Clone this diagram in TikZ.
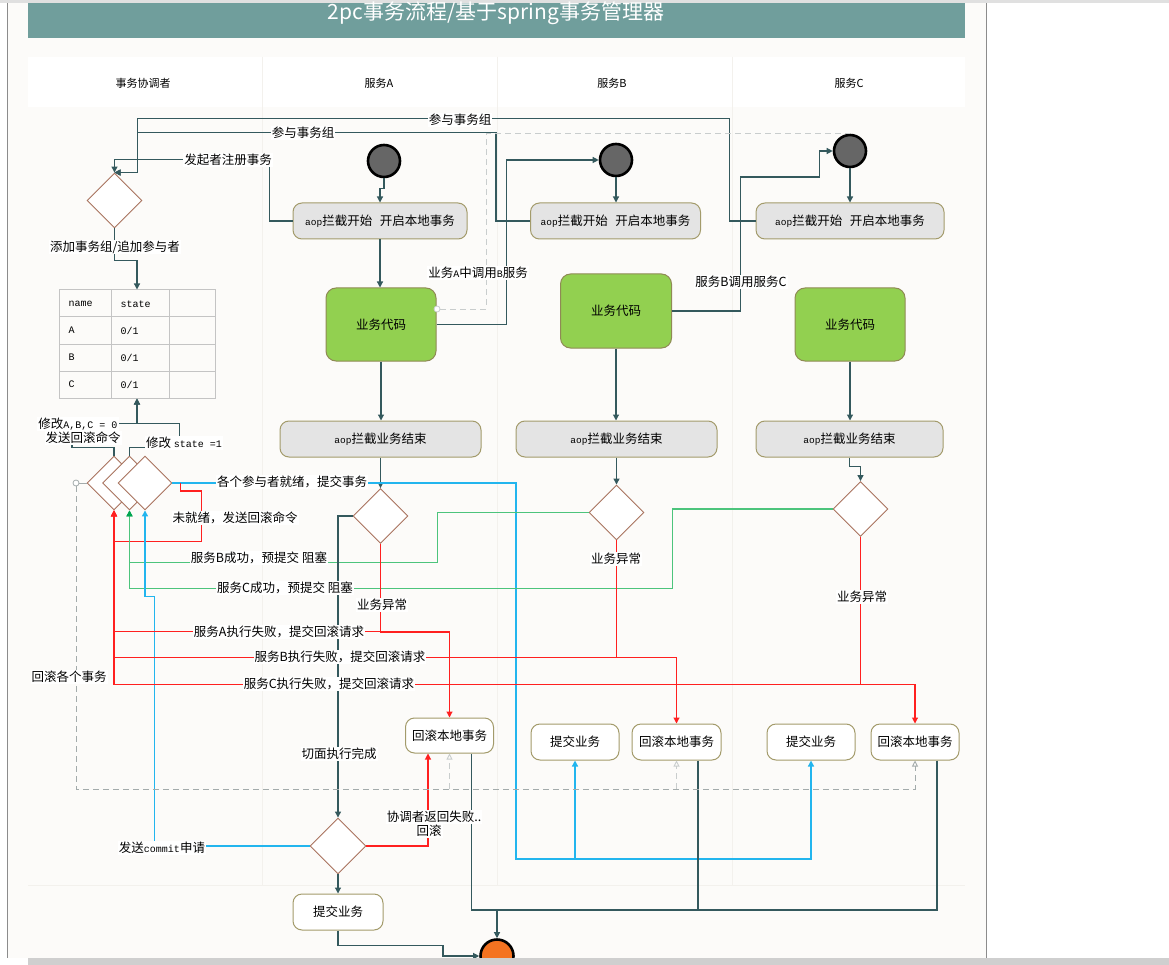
\documentclass[tikz,border=0pt]{standalone}
\usepackage{fontspec}
\setmainfont{Noto Sans CJK SC}
\newfontfamily\mono{Liberation Mono}
\usetikzlibrary{arrows.meta,shapes.geometric,calc}

\definecolor{pagebg}{HTML}{FCFBF9}
\definecolor{titlebg}{HTML}{709E9C}
\definecolor{laneline}{HTML}{F3F1ED}
\definecolor{flowc}{HTML}{34595D}
\definecolor{boxgrey}{HTML}{E4E4E4}
\definecolor{boxedge}{HTML}{A39B6B}
\definecolor{codegreen}{HTML}{92D050}
\definecolor{codeedge}{HTML}{8F8A55}
\definecolor{decedge}{HTML}{A8735E}
\definecolor{startfill}{HTML}{666666}
\definecolor{endfill}{HTML}{F47321}
\definecolor{failred}{HTML}{FF2020}
\definecolor{okblue}{HTML}{22B5EE}
\definecolor{okgreen}{HTML}{4CC47C}
\definecolor{arrgreen}{HTML}{00A650}
\definecolor{dashgrey}{HTML}{A3ABAB}
\definecolor{dashlight}{HTML}{C9CDCD}
\definecolor{gridgrey}{HTML}{C4C4C4}

\newcommand{\aop}{{\mono\fontsize{9.5}{10}\selectfont aop}}
\newcommand{\monotxt}[1]{{\mono\fontsize{10}{12}\selectfont #1}}

\tikzset{
  txt/.style={font=\fontsize{12.5}{15}\selectfont},
  lbl/.style={txt, fill=white, inner sep=1pt},
  hdr/.style={font=\fontsize{11}{13}\selectfont},
  gbox/.style={txt, draw=boxedge, fill=boxgrey, rounded corners=9pt, line width=1pt, minimum height=36pt, inner sep=0pt},
  wbox/.style={txt, draw=boxedge, fill=white, rounded corners=9pt, line width=1pt, minimum width=88pt, minimum height=36pt, inner sep=0pt},
  codebox/.style={txt, draw=codeedge, fill=codegreen, rounded corners=10pt, line width=1pt, minimum width=110pt, minimum height=73pt, inner sep=0pt},
  dec/.style={diamond, draw=decedge, fill=white, line width=0.9pt, minimum width=55pt, minimum height=55pt, inner sep=0pt},
  startc/.style={circle, draw=black, line width=2.6pt, fill=startfill, minimum size=32pt, inner sep=0pt},
  tip/.style={-{Triangle[length=6pt,width=6pt]}},
  flow/.style={draw=flowc, line width=1.2pt},
  flowarr/.style={flow, tip},
  redl/.style={draw=failred, line width=1.1pt},
  redarr/.style={redl, tip},
  bluel/.style={draw=okblue, line width=1.4pt},
  bluearr/.style={bluel, tip},
  greenl/.style={draw=okgreen, line width=1.4pt, -{Triangle[length=6pt,width=6pt,color=arrgreen]}},
  dashl/.style={draw=dashlight, line width=0.9pt, dash pattern=on 6pt off 4pt},
  dashd/.style={draw=dashgrey, line width=0.9pt, dash pattern=on 6pt off 4pt},
  dashopen/.style={dashd, -{Triangle[open,length=6pt,width=6pt]}},
  tcell/.style={anchor=west, font=\mono\fontsize{10}{12}\selectfont}
}

\begin{document}
\begin{tikzpicture}[x=1pt,y=-1pt]
\useasboundingbox (0,0) rectangle (1169,965);

% page and frame
\fill[white] (0,0) rectangle (1169,965);
\fill[pagebg] (7,0) rectangle (986,958);
\draw[black!45, line width=1pt] (7,0) -- (7,958);
\draw[black!45, line width=1pt] (986,0) -- (986,958);
\fill[black!12] (0,0) rectangle (1169,3);

% title band
\fill[titlebg] (28,3) rectangle (965,38);
\node[text=white, font=\fontsize{21}{24}\selectfont] (title) at (496,13) {2pc事务流程/基于spring事务管理器};

% swimlane header and separators
\fill[white] (28,57) rectangle (965,107);
\foreach \x in {262,497,732} \draw[laneline] (\x,57) -- (\x,885);
\draw[laneline] (28,885) -- (965,885);
\node[hdr] (h0) at (143,83) {事务协调者};
\node[hdr] (h1) at (379,83) {服务A};
\node[hdr] (h2) at (612,83) {服务B};
\node[hdr] (h3) at (849,83) {服务C};

% coordinator lane
\node[dec] (dReg) at (114.5,200.5) {};
\node[draw=gridgrey, line width=1pt, minimum width=156pt, minimum height=108pt, inner sep=0pt] (tbl) at (137,344) {};
\draw[gridgrey, line width=1pt] (111,290) -- (111,398) (169,290) -- (169,398)
  (59,317) -- (215,317) (59,344) -- (215,344) (59,371) -- (215,371);
\node[tcell] (t1) at (65,304) {name};
\node[tcell] (t2) at (117,304) {state};
\node[tcell] (t3) at (65,330.5) {A};
\node[tcell] (t4) at (117,330.5) {0/1};
\node[tcell] (t5) at (65,357.5) {B};
\node[tcell] (t6) at (117,357.5) {0/1};
\node[tcell] (t7) at (65,384.5) {C};
\node[tcell] (t8) at (117,384.5) {0/1};
\node[dec, minimum width=54pt, minimum height=54pt] (dSt1) at (114,483) {};
\node[dec, minimum width=54pt, minimum height=54pt] (dSt2) at (129.5,483) {};
\node[dec, minimum width=54pt, minimum height=54pt] (dSt3) at (145,483) {};
\node[circle, draw=dashgrey, fill=white, minimum size=6pt, inner sep=0pt, line width=0.8pt] (hub) at (76,483) {};

% service A lane
\node[startc] (sA) at (384,161) {};
\node[gbox, minimum width=174pt] (a1) at (380,221) {\aop{}拦截开始\hspace{0.6em}开启本地事务};
\node[codebox] (codeA) at (381,324.5) {业务代码};
\node[gbox, minimum width=201pt] (a3) at (380.5,439) {\aop{}拦截业务结束};
\node[dec] (dA) at (380.5,516) {};
\node[wbox, minimum width=88pt, minimum height=35pt] (rbA) at (449.5,735.5) {回滚本地事务};
\node[dec, minimum width=56pt, minimum height=56pt] (dFin) at (338,846) {};
\node[wbox, minimum width=90pt] (cmA) at (338,912) {提交业务};
\node[circle, draw=black, line width=2.6pt, fill=endfill, minimum size=33pt, inner sep=0pt] (endc) at (497,956) {};
\node[circle, draw=dashlight, fill=white, minimum size=6pt, inner sep=0pt, line width=0.8pt] (hubA) at (437,309) {};

% service B lane
\node[startc] (sB) at (616,160) {};
\node[gbox, minimum width=170pt] (b1) at (615.5,221) {\aop{}拦截开始\hspace{0.6em}开启本地事务};
\node[codebox, minimum width=111pt, minimum height=74pt] (codeB) at (616,311) {业务代码};
\node[gbox, minimum width=201pt] (b3) at (616.5,439) {\aop{}拦截业务结束};
\node[dec] (dB) at (616.5,512.5) {};
\node[wbox] (cmB) at (575,742) {提交业务};
\node[wbox, minimum width=89pt] (rbB) at (676.5,742) {回滚本地事务};

% service C lane
\node[startc] (sC) at (850,151) {};
\node[gbox, minimum width=188pt] (c1) at (850,221) {\aop{}拦截开始\hspace{0.6em}开启本地事务};
\node[codebox] (codeC) at (850,324.5) {业务代码};
\node[gbox, minimum width=187pt] (c3) at (849.5,439) {\aop{}拦截业务结束};
\node[dec] (dC) at (860.5,509) {};
\node[wbox] (cmC) at (811,742) {提交业务};
\node[wbox] (rbC) at (915,742) {回滚本地事务};

% ---- connectors ----
% start events into interceptors
\draw[flowarr] (sA.south) -- ++(0,10) -| (a1.north);
\draw[flowarr] (sB.south) -- (sB.south |- b1.north);
\draw[flowarr] (sC.south) -- (sC.south |- c1.north);
% main chains
\draw[flowarr] (a1.south) -- (a1.south |- codeA.north);
\draw[flowarr] (codeA.south) -- (codeA.south |- a3.north);
\draw[flowarr] (a3.south) -- (a3.south |- dA.north);
\draw[flowarr] (codeB.south) -- (codeB.south |- b3.north);
\draw[flowarr] (b3.south) -- (b3.south |- dB.north);
\draw[flowarr] (codeC.south) -- (codeC.south |- c3.north);
\draw[flowarr] (c3.south) -- ++(0,9) -| (dC.north);

% registration with the coordinator
\draw[flowarr] (a1.west) -- ++(-23,0) |- ($(dReg.north)+(0,-13)$) -- (dReg.north);
\draw[flowarr] (b1.west) -- ++(-34,0) |- ($(dReg.north)+(23,-40)$) |- (dReg.north);
\draw[flowarr] (c1.west) -- ++(-26,0) |- ($(dReg.north)+(23,-54)$) |- (dReg.north);
\draw[flowarr] (dReg.south) -- ++(0,32) -| (tbl.north);

% state updates into the table
\draw[flowarr] (dSt1.north) -- ++(0,-8) -| ++(-42,-24) -| (tbl.south);
\draw[flowarr] (dSt2.north) -- ++(0,-8) -| ++(50,-24) -| (tbl.south);

% nested calls
\draw[flowarr] (codeA.east) -- ++(70,0) |- (sB.west);
\draw[flowarr] (codeB.east) -- ++(68.5,0) |- ++(79,-134) |- (sC.west);
\draw[dashl] (hubA.east) -- ++(46,0) |- (sC.north);

% commit broadcast
\coordinate (bj) at (516,859);
\draw[decedge, line width=1.1pt] (dSt3.east) -- ++(8,0);
\draw[bluearr] (dSt3.east) -| (bj) -| (cmC.south);
\draw[bluearr] (bj -| cmB.south) -- (cmB.south);

% not ready -> rollback
\draw[redarr] ($(dSt3.east)+(8,0)$) |- ++(21,8) |- ($(dSt1.south)+(0,31)$) -- (dSt1.south);

% pre-commit success
\draw[greenl] (dB.west) -- ++(-151,0) |- ($(dSt2.south)+(0,52)$) -- (dSt2.south);
\draw[greenl] (dC.west) -- ++(-160,0) |- ($(dSt2.south)+(0,78)$) -- (dSt2.south);

% commit request
\draw[bluearr] (dFin.west) -- ++(-155,0) |- ($(dSt3.south)+(0,86)$) -- (dSt3.south);

% failures
\draw[redarr] (dA.south) |- ($(dSt1.south)+(0,121)$) -- (dSt1.south);
\draw[redarr] (dA.south) -- ++(0,88) -| (rbA.north);
\draw[redarr] (dB.south) |- ($(dSt1.south)+(0,147)$) -- (dSt1.south);
\draw[redarr] (dB.south) -- ++(0,117) -| (rbB.north);
\draw[redarr] (dC.south) |- ($(dSt1.south)+(0,174)$) -- (dSt1.south);
\draw[redarr] (dC.south) -- ++(0,147.5) -| (rbC.north);
\draw[redarr] (dFin.east) -| ($(rbA.south)+(-21.5,0)$);

% aspect completion and final commit
\draw[flowarr] (dA.west) -| (dFin.north);
\draw[flowarr] (dFin.south) -- (cmA.north);
\draw[flowarr] (cmA.south) |- ++(105,15) |- (endc.west);
\coordinate (mj) at (497,910);
\draw[flowarr] ($(rbA.south)+(22,0)$) |- (mj) -- (endc.north);
\draw[flow] ($(rbB.south)+(21.5,0)$) |- (mj);
\draw[flow] ($(rbC.south)+(22,0)$) |- (mj);

% rollback of every transaction
\draw[dashgrey, line width=0.9pt] (hub) -- (dSt1.west);
\coordinate (dl) at (76,789);
\draw[dashopen] (hub.south) -- (dl) -| (rbC.south);
\draw[dashopen, draw=dashlight] (dl -| rbA.south) -- (rbA.south);
\draw[dashopen, draw=dashlight] (dl -| rbB.south) -- (rbB.south);

% ---- labels ----
\node[lbl] (l1) at (228,160) {发起者注册事务};
\node[lbl] (l2) at (303,133) {参与事务组};
\node[lbl] (l3) at (460,120) {参与事务组};
\node[lbl] (l4) at (115,247) {添加事务组/追加参与者};
\node[lbl] (l5) at (78,424) {修改\monotxt{A,B,C = 0}};
\node[lbl] (l6) at (83,438) {发送回滚命令};
\node[lbl] (l7) at (184,443) {修改 \monotxt{state =1}};
\node[lbl] (l8) at (478,273) {业务\monotxt{A}中调用\monotxt{B}服务};
\node[lbl] (l9) at (741,282) {服务B调用服务C};
\node[lbl] (l10) at (292,482) {各个参与者就绪，提交事务};
\node[lbl] (l11) at (235,518) {未就绪，发送回滚命令};
\node[lbl] (l12) at (259,558) {服务B成功，预提交 阻塞};
\node[lbl] (l13) at (285,588) {服务C成功，预提交 阻塞};
\node[lbl] (l14) at (382,605) {业务异常};
\node[lbl] (l15) at (616,559) {业务异常};
\node[lbl] (l16) at (862,597) {业务异常};
\node[lbl] (l17) at (279,632) {服务A执行失败，提交回滚请求};
\node[lbl] (l18) at (340,657) {服务B执行失败，提交回滚请求};
\node[lbl] (l19) at (329,684) {服务C执行失败，提交回滚请求};
\node[lbl] (l20) at (69,677) {回滚各个事务};
\node[lbl] (l21) at (339,754) {切面执行完成};
\node[lbl] (l22) at (434,817) {协调者返回失败..};
\node[lbl] (l23) at (429,831) {回滚};
\node[lbl] (l24) at (162,848) {发送\monotxt{commit}申请};

% bottom scroll strip
\fill[black!19] (28,958) rectangle (1169,965);
\end{tikzpicture}
\end{document}
